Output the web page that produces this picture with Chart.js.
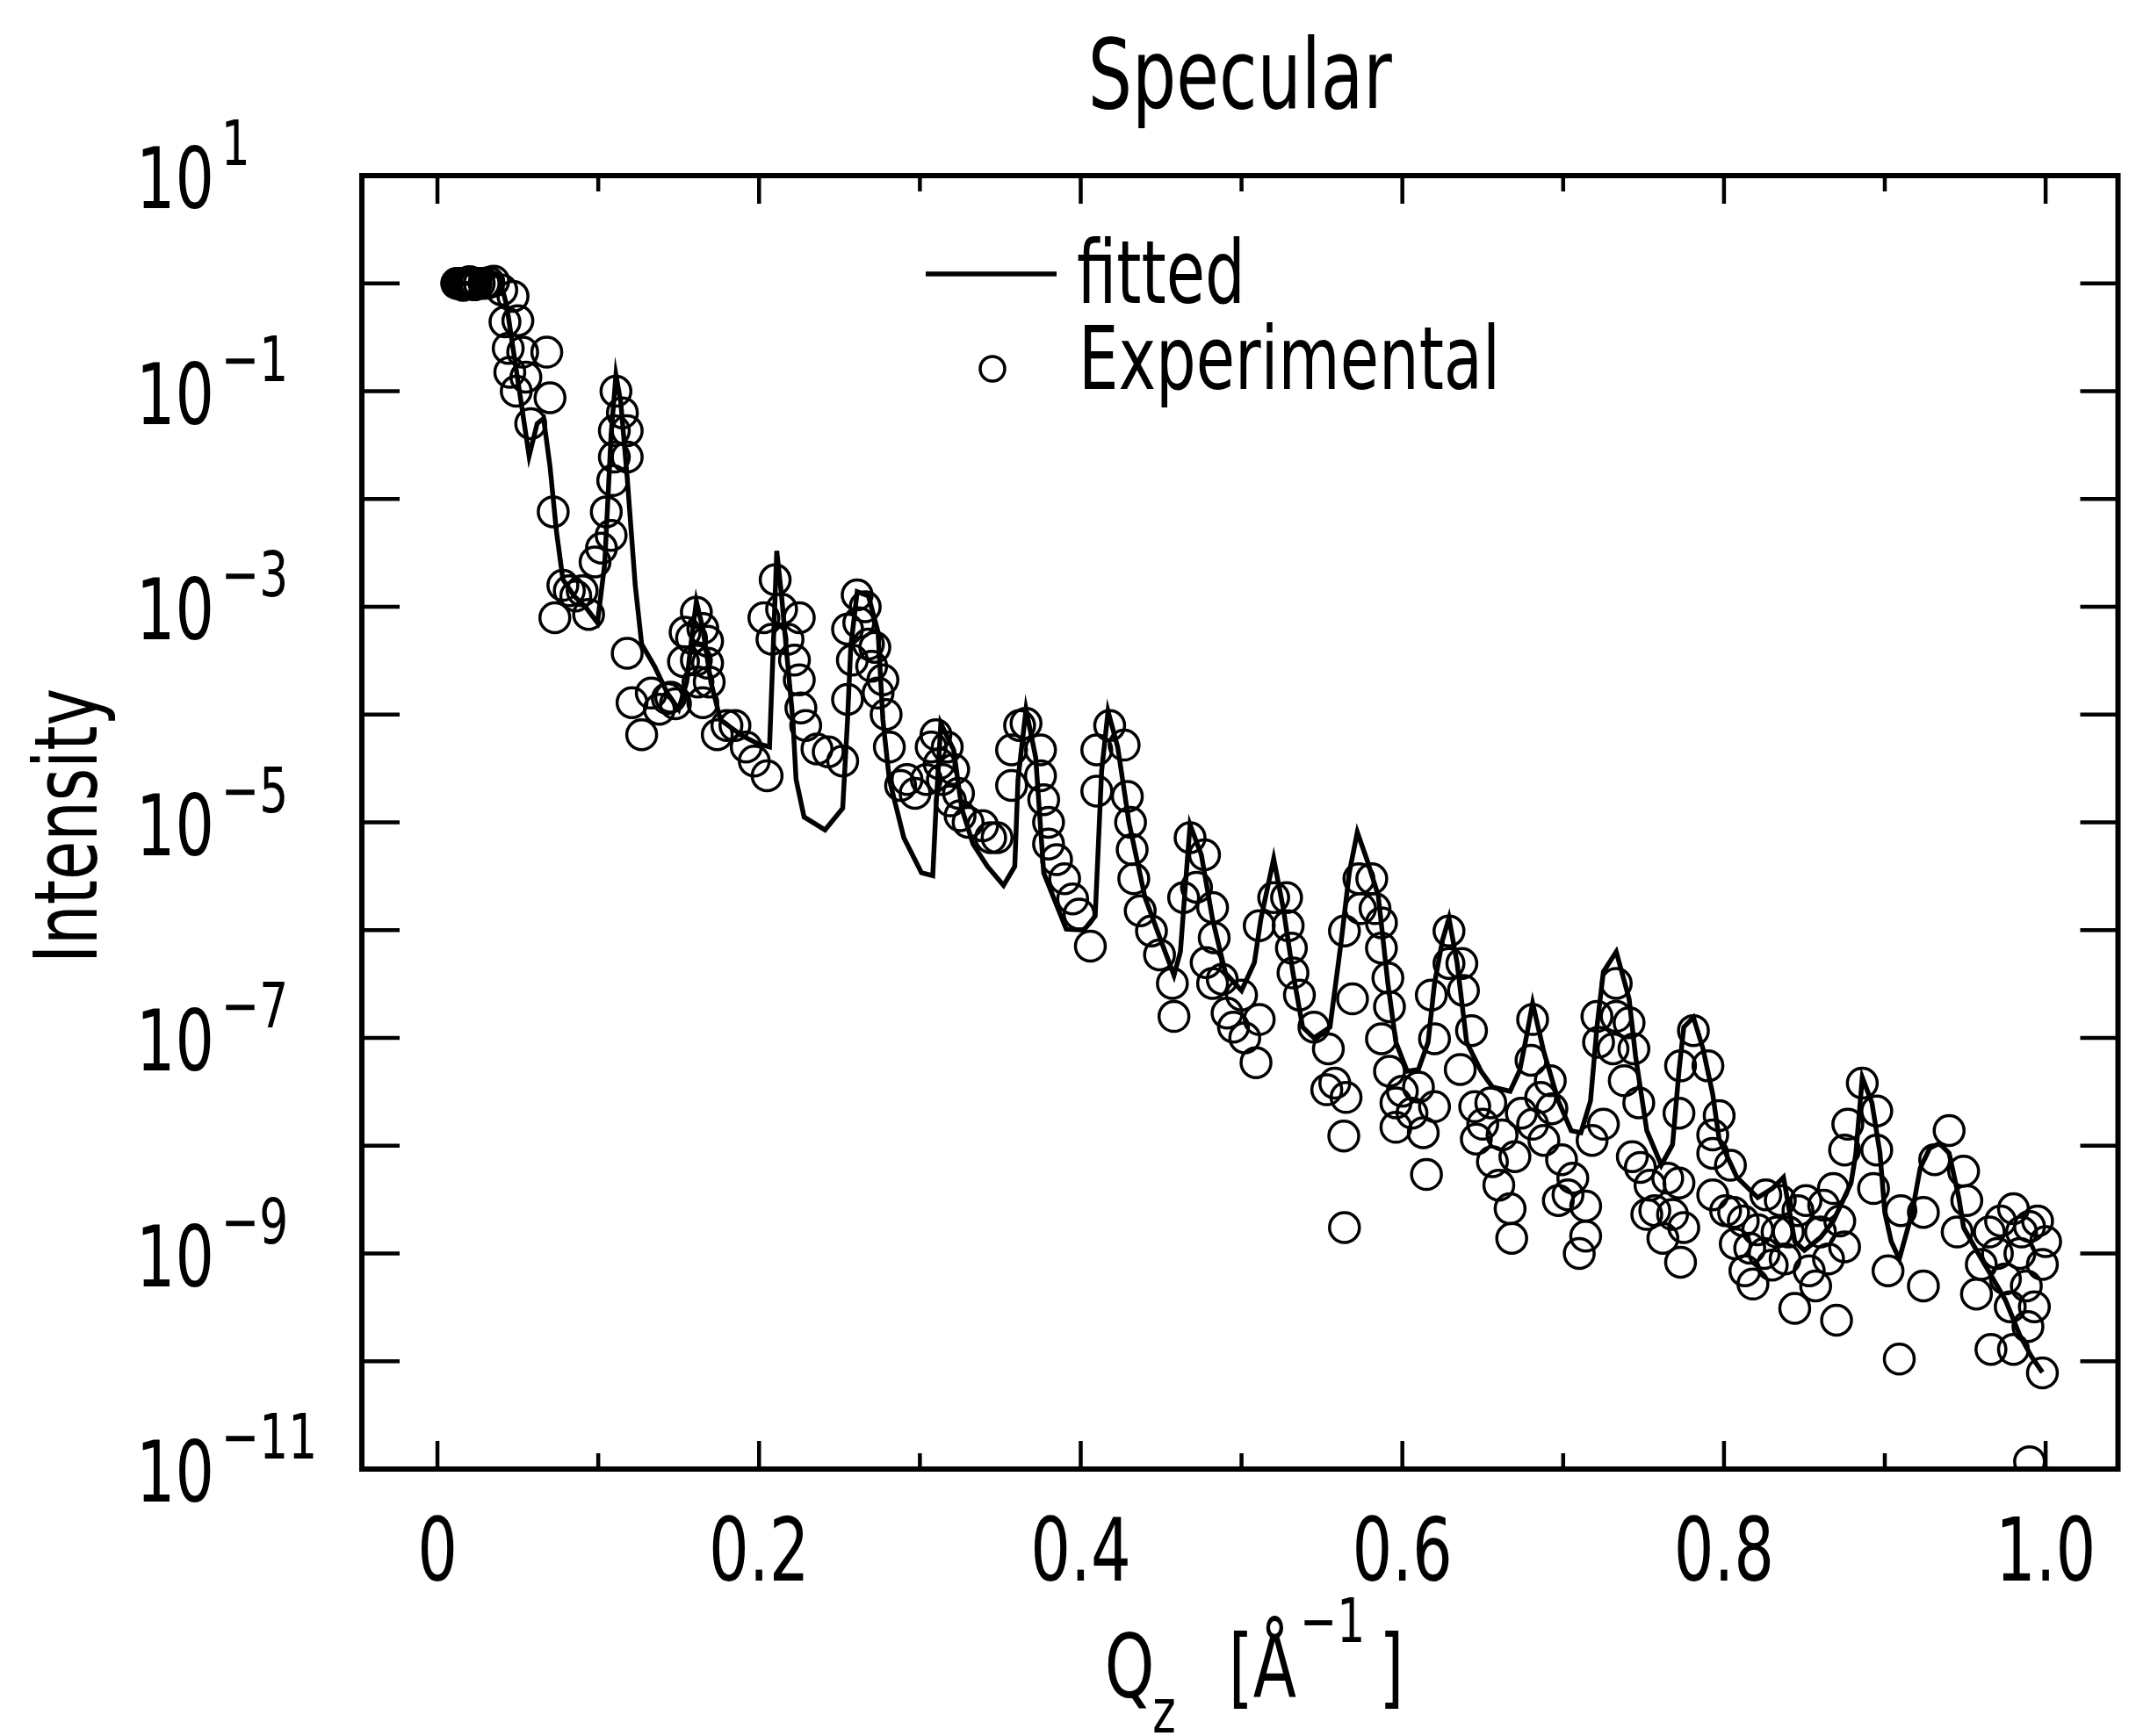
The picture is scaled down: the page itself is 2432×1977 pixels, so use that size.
<!DOCTYPE html>
<html>
<head>
<meta charset="utf-8">
<title>Specular</title>
<script src="https://cdn.jsdelivr.net/npm/chart.js@4.4.1/dist/chart.umd.min.js"></script>
<style>
  html, body { margin: 0; padding: 0; background: #fff; }
  canvas { display: block; }
</style>
</head>
<body>
<canvas id="myChart" width="2432" height="1977"></canvas>
<script>
// fitted reflectivity curve, Qz [1/A] and intensity
var fitQ = [
  0.002, 0.030, 0.034, 0.038, 0.043, 0.048, 0.053, 0.057, 0.062, 0.066,
  0.070, 0.074, 0.078, 0.085, 0.092, 0.0995, 0.104, 0.108, 0.111, 0.114,
  0.118, 0.123, 0.127, 0.135, 0.143, 0.150, 0.155, 0.158, 0.161, 0.165,
  0.170, 0.176, 0.190, 0.199, 0.2065, 0.209, 0.211, 0.214, 0.216, 0.221,
  0.223, 0.228, 0.241, 0.252, 0.255, 0.257, 0.261, 0.268, 0.274, 0.277,
  0.281, 0.290, 0.301, 0.308, 0.310, 0.313, 0.321, 0.326, 0.333, 0.342,
  0.352, 0.359, 0.361, 0.366, 0.372, 0.377, 0.391, 0.402, 0.409, 0.411,
  0.413, 0.417, 0.423, 0.430, 0.440, 0.450, 0.458, 0.462, 0.465, 0.468,
  0.475, 0.482, 0.490, 0.500, 0.508, 0.512, 0.520, 0.526, 0.532, 0.538,
  0.545, 0.555, 0.562, 0.567, 0.572, 0.578, 0.585, 0.591, 0.596, 0.603,
  0.610, 0.616, 0.620, 0.625, 0.629, 0.634, 0.640, 0.649, 0.656, 0.667,
  0.673, 0.677, 0.681, 0.688, 0.697, 0.705, 0.711, 0.717, 0.721, 0.725,
  0.733, 0.741, 0.745, 0.752, 0.761, 0.768, 0.772, 0.775, 0.781, 0.787,
  0.793, 0.797, 0.808, 0.821, 0.830, 0.837, 0.844, 0.850, 0.860, 0.868,
  0.879, 0.882, 0.886, 0.892, 0.897, 0.900, 0.904, 0.909, 0.917, 0.922,
  0.928, 0.934, 0.940, 0.946, 0.949, 0.957, 0.966, 0.975, 0.984, 0.991,
  0.998
];
var fitI = [
  1.0, 1.0, 1.26, 1.2, 0.63, 0.2, 0.063, 0.025, 0.05, 0.056,
  0.02, 5.0e-3, 1.8e-3, 1.26e-3, 1.0e-3, 7.1e-4, 2.5e-3, 0.04, 0.141, 0.079,
  0.0158, 1.58e-3, 4.5e-4, 2.8e-4, 1.58e-4, 1.12e-4, 2.0e-4, 5.0e-4, 1.12e-3, 6.3e-4,
  2.0e-4, 8.9e-5, 6.3e-5, 5.4e-5, 5.0e-5, 5.0e-4, 3.3e-3, 1.26e-3, 5.8e-4, 8.9e-5,
  2.5e-5, 1.12e-5, 8.5e-6, 1.35e-5, 8.9e-5, 4.2e-4, 1.38e-3, 1.26e-3, 5.8e-4, 8.9e-5,
  2.5e-5, 7.2e-6, 3.4e-6, 3.2e-6, 1.35e-5, 8.3e-5, 4.7e-5, 1.35e-5, 6.3e-6, 3.9e-6,
  2.6e-6, 3.9e-6, 2.5e-5, 1.12e-4, 4.0e-5, 3.4e-6, 1.02e-6, 1.0e-6, 1.35e-6, 6.3e-6,
  3.0e-5, 1.07e-4, 5.0e-5, 1.0e-5, 2.0e-6, 7.9e-7, 3.8e-7, 6.3e-7, 2.5e-6, 9.5e-6,
  5.0e-6, 1.26e-6, 4.0e-7, 2.75e-7, 5.0e-7, 1.26e-6, 4.6e-6, 1.58e-6, 4.0e-7, 1.26e-7,
  1.0e-7, 1.26e-7, 7.9e-7, 3.4e-6, 8.1e-6, 4.5e-6, 2.1e-6, 3.2e-7, 9.1e-8, 4.9e-8,
  5.1e-8, 9.1e-8, 3.2e-7, 8.1e-7, 1.29e-6, 5.0e-7, 9.1e-8, 4.9e-8, 3.5e-8, 3.2e-8,
  5.0e-8, 1.0e-7, 2.1e-7, 7.4e-8, 2.6e-8, 1.38e-8, 1.32e-8, 2.6e-8, 1.26e-7, 4.1e-7,
  6.3e-7, 2.3e-7, 6.8e-8, 1.38e-8, 6.6e-9, 1.02e-8, 4.9e-8, 1.26e-7, 1.55e-7, 7.9e-8,
  3.0e-8, 1.15e-8, 5.1e-9, 3.3e-9, 4.0e-9, 5.1e-9, 1.29e-9, 1.07e-9, 1.41e-9, 2.0e-9,
  4.5e-9, 8.5e-9, 4.3e-8, 2.5e-8, 8.5e-9, 2.4e-9, 1.29e-9, 8.9e-10, 2.4e-9, 6.2e-9,
  9.5e-9, 1.05e-8, 8.5e-9, 3.3e-9, 1.74e-9, 1.07e-9, 6.3e-10, 3.7e-10, 1.74e-10, 1.12e-10,
  7.9e-11
];

// experimental points
var expQ = [
  0.012, 0.0135, 0.015, 0.0165, 0.018, 0.0195, 0.021, 0.0225, 0.024, 0.026,
  0.029, 0.032, 0.035, 0.040, 0.042, 0.044, 0.045, 0.047, 0.049, 0.050, 0.053,
  0.055, 0.058, 0.068, 0.070, 0.072, 0.073, 0.078, 0.082, 0.086, 0.090,
  0.094, 0.098, 0.102, 0.105, 0.108, 0.109, 0.110, 0.110, 0.111, 0.115,
  0.118, 0.118, 0.118, 0.121, 0.127, 0.133, 0.138, 0.143, 0.145, 0.148,
  0.153, 0.154, 0.158, 0.161, 0.161, 0.162, 0.165, 0.165, 0.168, 0.168,
  0.169, 0.174, 0.180, 0.185, 0.192, 0.197, 0.205, 0.203, 0.208, 0.210,
  0.214, 0.218, 0.222, 0.225, 0.225, 0.226, 0.229, 0.236, 0.243, 0.252,
  0.255, 0.255, 0.261, 0.266, 0.272, 0.277, 0.279, 0.281, 0.288, 0.292,
  0.297, 0.304, 0.310, 0.312, 0.317, 0.321, 0.324, 0.325, 0.330, 0.339,
  0.344, 0.348, 0.357, 0.357, 0.362, 0.366, 0.375, 0.375, 0.377, 0.380,
  0.380, 0.385, 0.390, 0.395, 0.399, 0.406, 0.410, 0.410, 0.418, 0.427,
  0.429, 0.431, 0.432, 0.433, 0.437, 0.444, 0.449, 0.457, 0.458, 0.464,
  0.468, 0.472, 0.477, 0.478, 0.482, 0.483, 0.482, 0.491, 0.502, 0.509,
  0.511, 0.511, 0.520, 0.528, 0.529, 0.531, 0.532, 0.536, 0.545, 0.553,
  0.554, 0.558, 0.5636, 0.564, 0.564, 0.565, 0.569, 0.573, 0.574, 0.581,
  0.583, 0.587, 0.587, 0.587, 0.591, 0.592, 0.592, 0.596, 0.596, 0.613,
  0.615, 0.618, 0.620, 0.620, 0.629, 0.629, 0.637, 0.638, 0.643, 0.636,
  0.645, 0.646, 0.656, 0.660, 0.667, 0.668, 0.670, 0.674, 0.680, 0.681,
  0.681, 0.692, 0.693, 0.697, 0.699, 0.706, 0.710, 0.714, 0.714, 0.718,
  0.721, 0.722, 0.725, 0.731, 0.733, 0.733, 0.741, 0.743, 0.744, 0.748,
  0.752, 0.754, 0.762, 0.768, 0.772, 0.772, 0.773, 0.773, 0.775, 0.781,
  0.790, 0.793, 0.793, 0.793, 0.797, 0.801, 0.804, 0.806, 0.807, 0.813,
  0.818, 0.821, 0.826, 0.830, 0.835, 0.840, 0.844, 0.851, 0.853, 0.860,
  0.868, 0.870, 0.875, 0.875, 0.877, 0.886, 0.893, 0.895, 0.895, 0.902,
  0.909, 0.910, 0.924, 0.924, 0.931, 0.940, 0.945, 0.949, 0.951, 0.957,
  0.965, 0.966, 0.970, 0.975, 0.980, 0.980, 0.984, 0.988, 0.989, 0.990,
  0.990, 0.998, 0.998, 1.000,
  0.812, 0.816, 0.825, 0.833, 0.838, 0.846, 0.857, 0.862, 0.865, 0.872,
  0.960, 0.972, 0.978, 0.993, 0.995, 0.985, 0.650, 0.655, 0.662, 0.686,
  0.688, 0.703, 0.738, 0.747, 0.757, 0.765, 0.600, 0.606, 0.610, 0.495,
  0.500, 0.488, 0.262, 0.268, 0.270, 0.274, 0.258, 0.307, 0.314, 0.319,
  0.016, 0.020, 0.023
];
var expI = [
  1.0, 1.0, 1.0, 1.0, 1.0, 1.0, 1.0, 1.0, 1.0, 1.0,
  1.0, 1.02, 1.05, 0.87, 0.44, 0.25, 0.15, 0.76, 0.10, 0.45, 0.23,
  0.135, 0.05, 0.23, 0.087, 7.6e-3, 7.9e-4, 1.58e-3, 1.41e-3, 1.26e-3, 1.41e-3,
  8.5e-4, 2.6e-3, 3.5e-3, 7.6e-3, 4.6e-3, 0.0148, 0.0245, 0.043, 0.1, 0.063,
  0.043, 0.0245, 3.7e-4, 1.29e-4, 6.5e-5, 1.58e-4, 1.12e-4, 1.41e-4, 1.45e-4, 1.26e-4,
  3.1e-4, 5.8e-4, 5.1e-4, 8.9e-4, 3.2e-4, 2.0e-4, 6.3e-4, 1.29e-4, 4.8e-4, 3.0e-4,
  2.0e-4, 6.5e-5, 7.9e-5, 7.9e-5, 5.0e-5, 3.7e-5, 2.7e-5, 7.9e-4, 5.0e-4, 1.78e-3,
  9.5e-4, 5.0e-4, 3.2e-4, 7.9e-4, 2.1e-4, 1.15e-4, 7.9e-5, 4.8e-5, 4.5e-5, 3.7e-5,
  1.38e-4, 6.2e-4, 1.29e-3, 1.0e-3, 4.2e-4, 2.1e-4, 1.0e-4, 5.0e-5, 2.2e-5, 2.5e-5,
  1.86e-5, 2.5e-5, 6.5e-5, 3.5e-5, 5.0e-5, 3.1e-5, 1.86e-5, 1.15e-5, 1.0e-5, 9.3e-6,
  7.2e-6, 7.2e-6, 4.7e-5, 2.2e-5, 7.9e-5, 8.3e-5, 4.7e-5, 2.7e-5, 1.62e-5, 1.0e-5,
  6.3e-6, 4.5e-6, 3.0e-6, 1.95e-6, 1.41e-6, 7.1e-7, 4.7e-5, 1.95e-5, 7.9e-5, 5.2e-5,
  1.74e-5, 1.0e-5, 5.6e-6, 3.0e-6, 1.51e-6, 9.8e-7, 5.9e-7, 3.2e-7, 1.58e-7, 2.0e-6,
  7.2e-6, 2.5e-6, 5.0e-6, 5.0e-7, 1.62e-6, 8.5e-7, 3.2e-7, 1.7e-7, 1.0e-7, 5.9e-8,
  1.48e-7, 1.1e-6, 2.0e-6, 2.0e-6, 1.1e-6, 6.8e-7, 4.0e-7, 2.5e-7, 1.26e-7, 3.3e-8,
  7.9e-8, 3.8e-8, 1.23e-8, 1.74e-9, 9.8e-7, 2.8e-8, 2.3e-7, 3.0e-6, 1.58e-6, 3.0e-6,
  1.58e-6, 1.17e-6, 6.8e-7, 9.8e-8, 3.6e-7, 1.95e-7, 4.9e-8, 2.5e-8, 1.48e-8, 1.32e-8,
  5.4e-9, 2.5e-7, 2.3e-8, 9.8e-8, 9.8e-7, 4.9e-7, 4.9e-7, 2.75e-7, 1.17e-7, 5.1e-8,
  2.3e-8, 1.15e-8, 7.1e-9, 4.3e-9, 2.6e-9, 1.38e-9, 7.9e-9, 2.0e-8, 6.2e-8, 1.48e-7,
  1.58e-8, 4.0e-8, 2.2e-8, 3.1e-9, 7.4e-9, 5.0e-9, 1.0e-9, 2.75e-9, 1.45e-9, 1.12e-8,
  1.58e-7, 9.1e-8, 1.58e-8, 7.9e-8, 3.2e-7, 1.58e-7, 1.38e-7, 7.9e-9, 7.9e-8, 6.3e-9,
  2.3e-9, 4.3e-9, 1.38e-9, 2.3e-9, 4.5e-9, 2.0e-8, 5.5e-8, 8.3e-10, 1.74e-9, 1.17e-7,
  5.5e-8, 1.26e-8, 8.5e-9, 3.5e-9, 1.9e-8, 2.5e-9, 6.6e-9, 2.4e-9, 1.23e-9, 6.9e-10,
  5.2e-10, 1.66e-9, 3.5e-9, 7.8e-10, 3.1e-9, 1.58e-9, 3.1e-10, 3.1e-9, 6.9e-10, 1.58e-9,
  4.0e-9, 2.4e-10, 1.15e-9, 9.1e-9, 1.58e-8, 3.8e-8, 4.0e-9, 2.1e-8, 9.1e-9, 6.9e-10,
  1.05e-10, 2.5e-9, 2.4e-9, 5.0e-10, 7.4e-9, 1.38e-8, 1.58e-9, 5.8e-9, 3.1e-9, 4.2e-10,
  1.58e-9, 1.29e-10, 1.0e-9, 5.8e-10, 2.6e-9, 1.29e-10, 1.0e-9, 5.0e-10, 2.1e-10, 1.78e-9,
  1.17e-11, 7.9e-10, 7.8e-11, 1.29e-9,
  2.0e-9, 1.12e-9, 1.0e-9, 1.58e-9, 8.9e-10, 2.5e-9, 5.0e-10, 2.8e-9, 8.9e-10, 2.0e-9,
  7.9e-10, 2.0e-9, 3.2e-10, 3.2e-10, 2.0e-9, 1.58e-9, 1.58e-8, 2.5e-8, 1.26e-8, 2.8e-8,
  1.12e-8, 3.5e-9, 4.0e-8, 2.5e-8, 2.5e-9, 5.0e-9, 3.2e-8, 2.0e-8, 3.5e-8, 1.26e-7,
  2.5e-7, 3.5e-7, 7.1e-4, 4.5e-4, 2.8e-4, 1.58e-4, 3.2e-4, 5.0e-5, 2.5e-5, 1.58e-5,
  0.96, 1.04, 0.97
];

// axes
var xTicks = [0, 0.1, 0.2, 0.3, 0.4, 0.5, 0.6, 0.7, 0.8, 0.9, 1.0];
var xTickLabels = ['0', '', '0.2', '', '0.4', '', '0.6', '', '0.8', '', '1.0'];
var yTicks = [10, 1, 1e-1, 1e-2, 1e-3, 1e-4, 1e-5, 1e-6, 1e-7, 1e-8, 1e-9, 1e-10, 1e-11];
var yLabelValues = [10, 1e-1, 1e-3, 1e-5, 1e-7, 1e-9, 1e-11];
var yLabelExponents = ['1', '\u22121', '\u22123', '\u22125', '\u22127', '\u22129', '\u221211'];

var FONT = "'DejaVu Sans Condensed', 'Liberation Sans Narrow', sans-serif";
var SQUEEZE = 0.8;   // the original lettering is narrow

function toPoints(xs, ys) {
    var pts = [];
    for (var i = 0; i < xs.length; i++) pts.push({ x: xs[i], y: ys[i] });
    return pts;
}

// draws narrow text, returns its width
function narrowText(c, text, x, y, font, align) {
    c.save();
    c.font = font;
    var w = c.measureText(text).width * SQUEEZE;
    var left = x;
    if (align === 'center') left = x - w / 2;
    if (align === 'right') left = x - w;
    c.translate(left, y);
    c.scale(SQUEEZE, 1);
    c.textAlign = 'left';
    c.textBaseline = 'alphabetic';
    c.fillText(text, 0, 0);
    c.restore();
    return w;
}

function narrowWidth(c, text, font) {
    c.save();
    c.font = font;
    var w = c.measureText(text).width * SQUEEZE;
    c.restore();
    return w;
}

// frame, inward ticks, labels, titles and legend
var decorations = {
    id: 'decorations',
    afterDraw: function(chart) {
        var c = chart.ctx;
        var a = chart.chartArea;
        var xs = chart.scales.x;
        var ys = chart.scales.y;
        c.save();
        c.strokeStyle = '#000';
        c.fillStyle = '#000';

        c.lineWidth = 6;
        c.strokeRect(a.left, a.top, a.right - a.left, a.bottom - a.top);

        c.lineWidth = 4.5;
        c.beginPath();
        xTicks.forEach(function(v, i) {
            var px = xs.getPixelForValue(v);
            var len = xTickLabels[i] ? 32 : 18;
            c.moveTo(px, a.bottom); c.lineTo(px, a.bottom - len);
            c.moveTo(px, a.top); c.lineTo(px, a.top + len);
        });
        yTicks.forEach(function(v) {
            var py = ys.getPixelForValue(v);
            c.moveTo(a.left, py); c.lineTo(a.left + 43, py);
            c.moveTo(a.right, py); c.lineTo(a.right - 43, py);
        });
        c.stroke();

        // x tick labels
        xTicks.forEach(function(v, i) {
            if (!xTickLabels[i]) return;
            narrowText(c, xTickLabels[i], xs.getPixelForValue(v), 1800, '100px ' + FONT, 'center');
        });

        // 10^n labels
        yLabelValues.forEach(function(v, i) {
            var py = ys.getPixelForValue(v);
            var w = narrowText(c, '10', 155, py + 37, '97px ' + FONT, 'left');
            narrowText(c, yLabelExponents[i], 155 + w + 8, py - 12, '72px ' + FONT, 'left');
        });

        // title
        narrowText(c, 'Specular', (a.left + a.right) / 2, 123, '110px ' + FONT, 'center');

        // y title
        c.save();
        c.translate(110, (a.top + a.bottom) / 2 + 4);
        c.rotate(-Math.PI / 2);
        narrowText(c, 'Intensity', 0, 0, '100px ' + FONT, 'center');
        c.restore();

        // x title: Q_z [Å^-1]
        var big = '100px ' + FONT, small = '70px ' + FONT;
        var parts = [
            { t: 'Q', f: big, dy: 0, gap: -2 },
            { t: 'z', f: small, dy: 40, gap: 60 },
            { t: '[\u00c5', f: big, dy: 0, gap: 4 },
            { t: '\u22121', f: small, dy: -63, gap: 16 },
            { t: ']', f: big, dy: 0, gap: 0 }
        ];
        var total = 0;
        parts.forEach(function(p) { p.w = narrowWidth(c, p.t, p.f); total += p.w + p.gap; });
        var x0 = 1428 - total / 2;
        parts.forEach(function(p) {
            narrowText(c, p.t, x0, 1933 + p.dy, p.f, 'left');
            x0 += p.w + p.gap;
        });

        // legend
        c.lineWidth = 5.5;
        c.beginPath();
        c.moveTo(1054, 312); c.lineTo(1203, 312);
        c.stroke();
        c.lineWidth = 3.5;
        c.beginPath();
        c.arc(1130, 420, 14, 0, Math.PI * 2);
        c.stroke();
        narrowText(c, 'fitted', 1226, 345, '100px ' + FONT, 'left');
        narrowText(c, 'Experimental', 1228, 443, '100px ' + FONT, 'left');
        c.restore();
    }
};

var ctx = document.getElementById("myChart").getContext("2d");

var myChart = new Chart(ctx, {
    type: 'scatter',
    data: {
        datasets: [{
            label: 'fitted',
            data: toPoints(fitQ, fitI),
            showLine: true,
            borderColor: '#000',
            borderWidth: 5.5,
            pointRadius: 0,
            fill: false,
            tension: 0
        }, {
            label: 'Experimental',
            data: toPoints(expQ, expI),
            showLine: false,
            pointStyle: 'circle',
            pointRadius: 17,
            borderWidth: 3.5,
            borderColor: '#000',
            backgroundColor: 'rgba(255,255,255,0)'
        }]
    },
    options: {
        responsive: false,
        maintainAspectRatio: false,
        animation: false,
        devicePixelRatio: 1,
        layout: { padding: { left: 0, top: 200, right: 5, bottom: 0 } },
        plugins: {
            legend: { display: false },
            tooltip: { enabled: false },
            title: { display: false }
        },
        scales: {
            x: {
                type: 'linear',
                min: -0.047,
                max: 1.045,
                afterBuildTicks: function(s) { s.ticks = xTicks.map(function(v) { return { value: v }; }); },
                afterFit: function(s) { s.height = 304; },
                grid: { display: false },
                border: { display: false },
                ticks: { display: false }
            },
            y: {
                type: 'logarithmic',
                min: 1e-11,
                max: 10,
                afterBuildTicks: function(s) { s.ticks = yTicks.map(function(v) { return { value: v }; }); },
                afterFit: function(s) { s.width = 412; },
                grid: { display: false },
                border: { display: false },
                ticks: { display: false }
            }
        }
    },
    plugins: [decorations]
});
</script>
</body>
</html>
